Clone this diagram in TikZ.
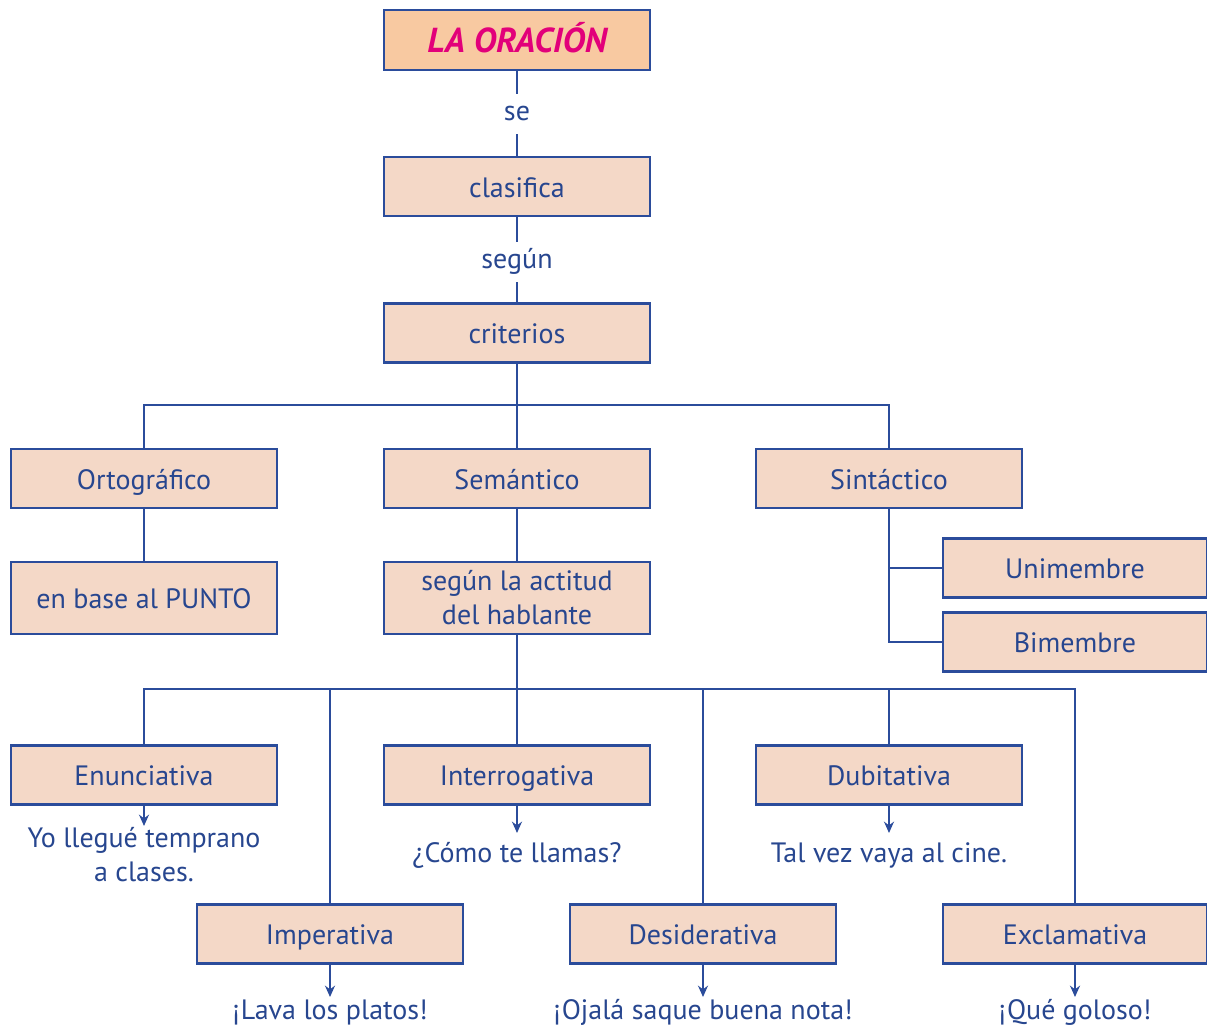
\documentclass[tikz,border=0pt]{standalone}
\usepackage{fontspec}
\setmainfont{PT Sans}
\usetikzlibrary{arrows.meta}
\definecolor{bblue}{HTML}{2B4C9B}
\definecolor{tblue}{HTML}{27468F}
\definecolor{peach}{HTML}{F4D8C7}
\definecolor{peachtop}{HTML}{F8C9A1}
\definecolor{magenta}{HTML}{E2007A}
\tikzset{
  boxbase/.style={draw=bblue, line width=1.8pt, fill=peach, text=tblue,
    minimum width=266*0.75pt, minimum height=59*0.75pt, inner sep=2pt,
    font=\fontsize{21}{25.5}\selectfont, align=center},
  box/.style={boxbase, text height=18pt, text depth=2pt},
  rbox/.style={box, minimum width=264*0.75pt},
  tallbox/.style={box, minimum height=72*0.75pt},
  twobox/.style={boxbase, minimum height=72*0.75pt},
  topbox/.style={boxbase, fill=peachtop, minimum height=60*0.75pt, text=magenta,
    text height=20pt, text depth=2pt,
    font=\fontsize{26}{28}\selectfont\bfseries\itshape},
  lbl/.style={text=tblue, font=\fontsize{21}{25}\selectfont, inner xsep=3pt, inner ysep=5pt,
    text height=15pt, text depth=5pt},
  ex/.style={text=tblue, font=\fontsize{21}{25.5}\selectfont, align=center,
    inner xsep=1pt, inner ysep=1.5pt, text height=15pt, text depth=4pt},
  exmid/.style={ex, inner ysep=7pt},
  extwo/.style={text=tblue, font=\fontsize{21}{25.5}\selectfont, align=center,
    inner xsep=1pt, inner ysep=1pt},
  conn/.style={draw=bblue, line width=1.8pt},
  arr/.style={conn, -{Stealth[length=8.5pt,width=7.5pt]}}
}
\begin{document}
\begin{tikzpicture}[x=0.75pt,y=-0.75pt]
\useasboundingbox (0,0) rectangle (1207,1028);
% nodes
\node[topbox] (top) at (517,40) {LA ORACIÓN};
\node[lbl] (se) at (517,114) {se};
\node[box] (clas) at (517,186.5) {clasifica};
\node[lbl] (segun) at (517,262) {según};
\node[box] (crit) at (517,333) {criterios};
\coordinate (h1l) at (144,405);
\coordinate (h1r) at (889,405);
\node[box] (orto) at (144,478.5) {Ortográfico};
\node[box] (sem) at (517,478.5) {Semántico};
\node[box] (sint) at (889,478.5) {Sintáctico};
\node[tallbox] (punto) at (144,598) {en base al PUNTO};
\node[twobox] (actitud) at (517,598) {según la actitud\\del hablante};
\node[rbox] (uni) at (1075,568) {Unimembre};
\node[rbox] (bi) at (1075,642) {Bimembre};
\coordinate (su) at (889,568);
\coordinate (sb) at (889,642);
\coordinate (h2a) at (144,689);
\coordinate (h2b) at (330,689);
\coordinate (h2c) at (703,689);
\coordinate (h2d) at (889,689);
\coordinate (h2e) at (1075,689);
\node[box] (enun) at (144,775) {Enunciativa};
\node[box] (inte) at (517,775) {Interrogativa};
\node[box] (dubi) at (889,775) {Dubitativa};
\node[box] (impe) at (330,934) {Imperativa};
\node[box] (desi) at (703,934) {Desiderativa};
\node[rbox] (excl) at (1075,934) {Exclamativa};
\node[extwo, anchor=north] (exenun) at (144,826) {Yo llegué temprano\\a clases.};
\node[exmid, anchor=north] (exinte) at (517,833) {¿Cómo te llamas?};
\node[exmid, anchor=north] (exdubi) at (889,833) {Tal vez vaya al cine.};
\node[ex, anchor=north] (eximpe) at (330,997) {¡Lava los platos!};
\node[ex, anchor=north] (exdesi) at (703,997) {¡Ojalá saque buena nota!};
\node[ex, anchor=north] (exexcl) at (1075,997) {¡Qué goloso!};
% connectors
\draw[conn] (top) -- (se) -- (clas);
\draw[conn] (clas) -- (segun) -- (crit);
\draw[conn] (crit) -- (sem);
\draw[conn] (orto.north) -- (h1l) -- (h1r) -- (sint.north);
\draw[conn] (orto) -- (punto);
\draw[conn] (sem) -- (actitud);
\draw[conn] (sint.south) -- (sb) -- (bi.west);
\draw[conn] (su) -- (uni.west);
\draw[conn] (actitud) -- (inte);
\draw[conn] (enun.north) -- (h2a) -- (h2e) -- (excl.north);
\draw[conn] (h2b) -- (impe.north);
\draw[conn] (h2c) -- (desi.north);
\draw[conn] (h2d) -- (dubi.north);
\draw[arr] (enun) -- (exenun);
\draw[arr] (inte) -- (exinte);
\draw[arr] (dubi) -- (exdubi);
\draw[arr] (impe) -- (eximpe);
\draw[arr] (desi) -- (exdesi);
\draw[arr] (excl) -- (exexcl);
\end{tikzpicture}
\end{document}
